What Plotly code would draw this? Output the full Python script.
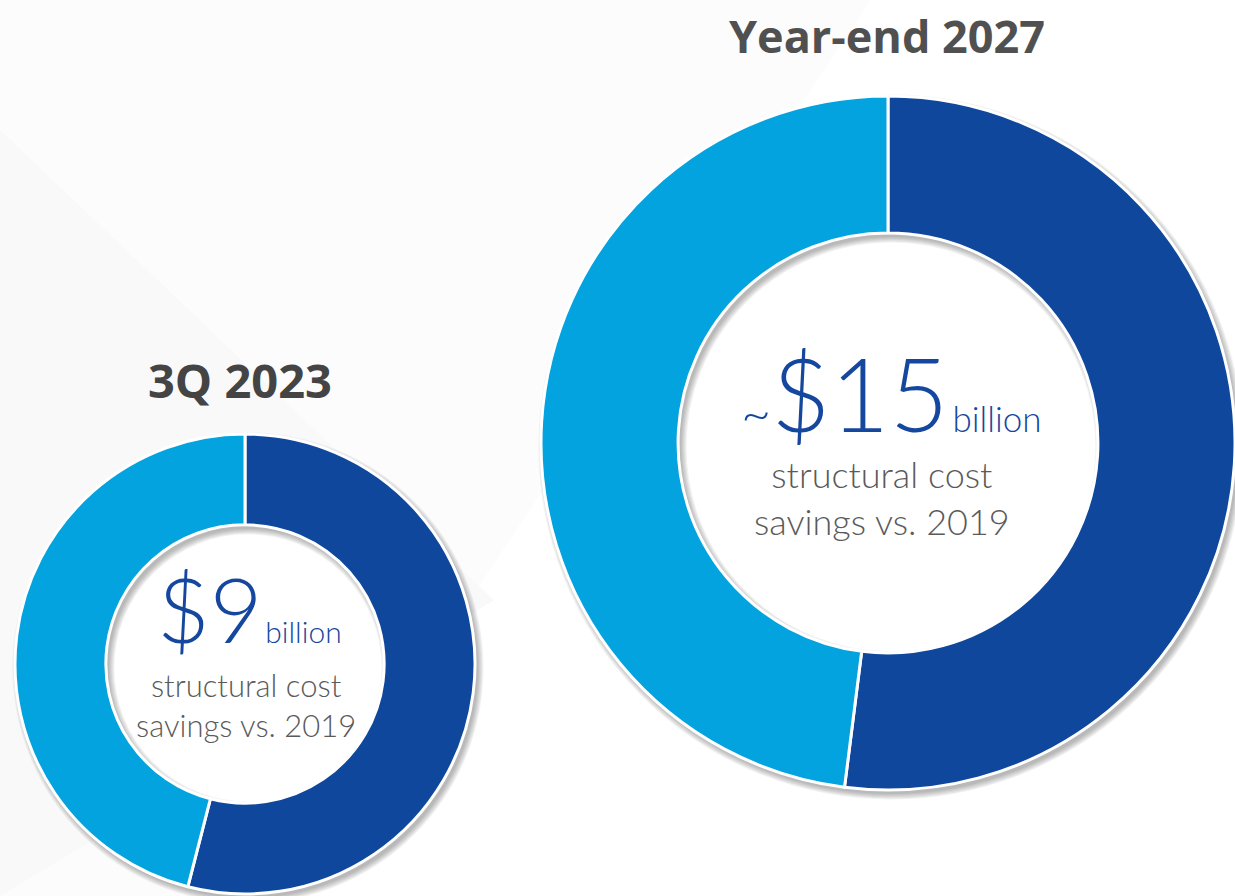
import plotly.graph_objects as go

# --- data -------------------------------------------------------------
periods = ["3Q 2023", "Year-end 2027"]
segments = ["Segment A", "Segment B"]
share_3q2023 = [54, 46]        # % of savings, dark / light
share_ye2027 = [52, 48]
headline_3q2023 = "$9"
headline_ye2027 = "$15"
subtitle = "structural cost<br>savings vs. 2019"

# --- style ------------------------------------------------------------
W, H = 1235, 896
DARK = "#0E479C"
LIGHT = "#03A3DF"
TEXT_BLUE = "#15479E"
GRAY = "#5A5A5A"
HOLE = 0.605


def pie_domain(cx, cy, r):
    x0 = max(0.0, (cx - r) / W)
    x1 = min(1.0, (cx + r) / W)
    y0 = max(0.0, 1 - (cy + r) / H)
    y1 = min(1.0, 1 - (cy - r) / H)
    return dict(x=[x0, x1], y=[y0, y1])


def disk(cx, cy, r, color):
    return dict(type="circle", xref="paper", yref="paper", layer="below",
                x0=(cx - r) / W, x1=(cx + r) / W,
                y0=1 - (cy + r) / H, y1=1 - (cy - r) / H,
                fillcolor=color, line=dict(width=0))


def shadow_rings(cx, cy, r, hole, dx=3, dy=4, layers=6):
    """Soft drop shadow under a donut, built from stacked translucent rings."""
    r_in = r * hole
    mid = (r + r_in) / 2
    thick = r - r_in
    out = []
    for k in range(layers):
        out.append(dict(
            type="circle", xref="paper", yref="paper", layer="below",
            x0=(cx + dx - mid) / W, x1=(cx + dx + mid) / W,
            y0=1 - (cy + dy + mid) / H, y1=1 - (cy + dy - mid) / H,
            line=dict(color="rgba(40,40,40,0.06)", width=thick + 2.2 * k),
            fillcolor="rgba(0,0,0,0)",
        ))
    return out


# donut geometry (pixels)
small = dict(cx=245, cy=664, r=230)
large = dict(cx=888, cy=443, r=347)

fig = go.Figure()

for shares, g in [(share_3q2023, small), (share_ye2027, large)]:
    fig.add_trace(go.Pie(
        labels=segments, values=shares, sort=False, direction="clockwise",
        rotation=0, hole=HOLE, textinfo="none", hoverinfo="label+percent",
        marker=dict(colors=[DARK, LIGHT], line=dict(color="white", width=3)),
        domain=pie_domain(g["cx"], g["cy"], g["r"]), showlegend=False,
    ))

shapes = []
# faint background facets
shapes.append(dict(type="path", xref="paper", yref="paper", layer="below",
                   path="M 0 1 L 0.705 1 L 0.22 0 L 0 0 Z",
                   fillcolor="#fcfcfc", line=dict(width=0)))
shapes.append(dict(type="path", xref="paper", yref="paper", layer="below",
                   path="M 0 0.855 L 0.40 0.33 L 0.0 0.0 Z",
                   fillcolor="#f9f9f9", line=dict(width=0)))
# white centres of the donuts
for g in (small, large):
    shapes.append(disk(g["cx"], g["cy"], g["r"] * HOLE + 2, "white"))
shapes += shadow_rings(small["cx"], small["cy"], small["r"], HOLE)
shapes += shadow_rings(large["cx"], large["cy"], large["r"], HOLE)

LIGHT_FONT = "Lato"


def px_x(x):
    return x / W


def px_y(y):
    return 1 - y / H


annotations = [
    # titles
    dict(text="<b>" + periods[0] + "</b>", x=px_x(240), y=px_y(380),
         font=dict(family="Open Sans", size=47, color="#444444")),
    dict(text="<b>" + periods[1] + "</b>", x=px_x(887), y=px_y(36),
         font=dict(family="Open Sans", size=45, color="#505050")),
    # small donut centre
    dict(text=(f'<span style="font-size:91px">{headline_3q2023}</span>'
               '<span style="font-size:10px"> </span>'
               '<span style="font-size:30px">billion</span>'),
         x=px_x(249), y=px_y(607),
         font=dict(family=LIGHT_FONT, color=TEXT_BLUE, weight=300)),
    dict(text=subtitle, x=px_x(246), y=px_y(705),
         font=dict(family=LIGHT_FONT, size=31, color=GRAY, weight=300)),
    # large donut centre
    dict(text=('<span style="font-size:52px">~</span>'
               f'<span style="font-size:102px">{headline_ye2027}</span>'
               '<span style="font-size:14px"> </span>'
               '<span style="font-size:35px">billion</span>'),
         x=px_x(891), y=px_y(392),
         font=dict(family=LIGHT_FONT, color=TEXT_BLUE, weight=300)),
    dict(text=subtitle, x=px_x(882), y=px_y(497),
         font=dict(family=LIGHT_FONT, size=36, color=GRAY, weight=300)),
]
for a in annotations:
    a.update(xref="paper", yref="paper", showarrow=False,
             xanchor="center", yanchor="middle")

fig.update_layout(
    width=W, height=H, margin=dict(l=0, r=0, t=0, b=0),
    paper_bgcolor="white", plot_bgcolor="white",
    shapes=shapes, annotations=annotations,
)

fig.write_html("out.html")
